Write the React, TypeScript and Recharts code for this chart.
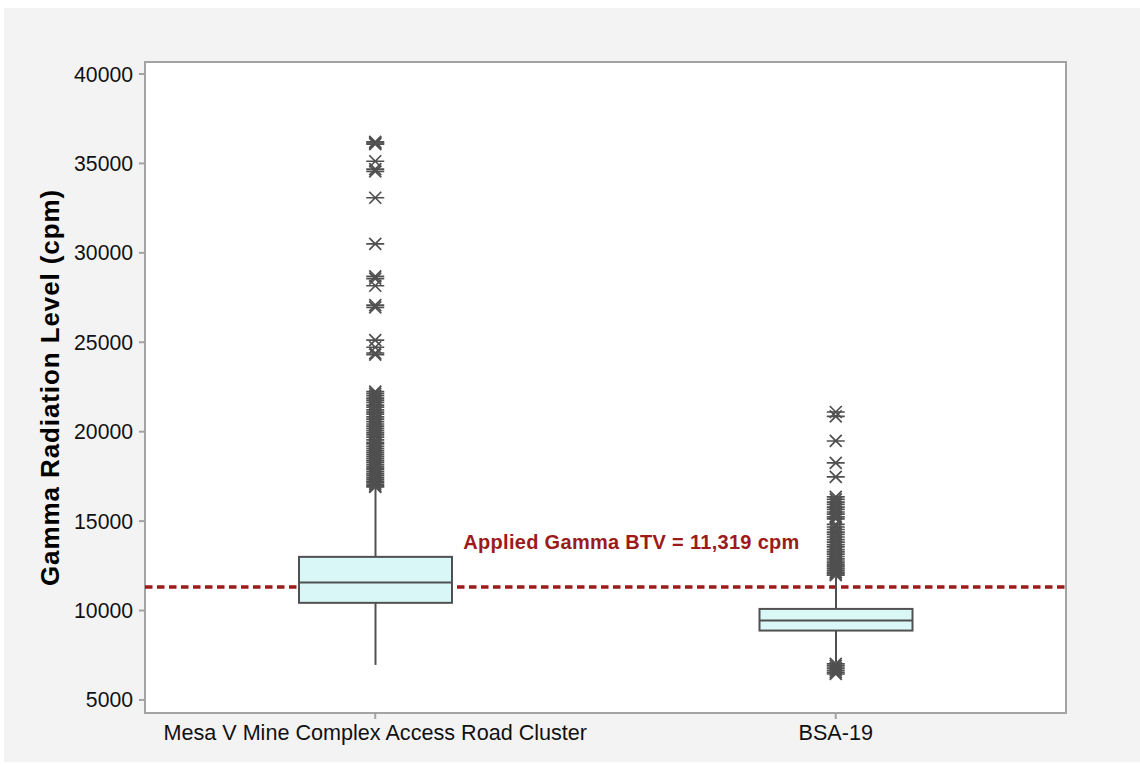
import { ComposedChart, Bar, Scatter, XAxis, YAxis, ReferenceLine, ReferenceArea, Label } from "recharts";

// Box statistics per site (cpm)
const sites = ["Mesa V Mine Complex Access Road Cluster", "BSA-19"];
const q1 = [10430, 8880];
const medians = [11560, 9440];
const q3 = [13000, 10090];
const whiskerLow = [6960, 7100];
const whiskerHigh = [16860, 11900];

// Individual values beyond the whiskers
const mesaOutliers = [
  36200, 36140, 36080, 35120, 34680, 34560, 33080, 30500, 28680, 28560, 28160,
  27080, 26950, 25120, 24720, 24400, 24310,
  22240, 22130, 22010, 21880, 21760, 21640, 21490, 21370, 21220, 21090, 20980,
  20830, 20700, 20560, 20430, 20310, 20180, 20060, 19930, 19820, 19690, 19540,
  19400, 19320, 19180, 19060, 18940, 18830, 18720, 18610, 18490, 18380, 18290,
  18170, 18060, 17960, 17870, 17760, 17650, 17560, 17440, 17350, 17240, 17150,
  17060, 16970, 16910,
];
const bsaOutliers = [
  21100, 20850, 19480, 18250, 17470,
  16360, 16220, 16060, 15930, 15780, 15660, 15510, 15390, 15240, 15120,
  14820, 14670, 14530, 14380, 14260, 14110, 13960, 13820, 13690, 13560, 13410,
  13280, 13150, 13020, 12890, 12770, 12660, 12560, 12480, 12370, 12260, 12150,
  12060, 11980,
  7020, 6900, 6780, 6650, 6540, 6450,
];

const btv = 11319;
const yTicks = [5000, 10000, 15000, 20000, 25000, 30000, 35000, 40000];
const yDomain = [4270, 40670];

const boxRows = sites.map((site, i) => ({
  pos: i,
  site,
  box: [q1[i], q3[i]],
  q1: q1[i],
  median: medians[i],
  q3: q3[i],
  low: whiskerLow[i],
  high: whiskerHigh[i],
}));

const outlierRows = [
  ...mesaOutliers.map((value) => ({ pos: 0, value })),
  ...bsaOutliers.map((value) => ({ pos: 1, value })),
];

const FONT = "Arial, 'Liberation Sans', sans-serif";
const INK = "#505050";
const RED = "#9c1a1a";

function BoxShape(props: any) {
  const { x, y, width, height, payload } = props;
  if (height == null || !payload) return null;
  // pixels per cpm, taken from the rendered box itself
  const perUnit = height / (payload.q3 - payload.q1);
  const cx = x + width / 2;
  const yMed = y + (payload.q3 - payload.median) * perUnit;
  const yHigh = y - (payload.high - payload.q3) * perUnit;
  const yLow = y + height + (payload.q1 - payload.low) * perUnit;
  return (
    <g>
      <line x1={cx} x2={cx} y1={yHigh} y2={y} stroke={INK} strokeWidth={2} />
      <line x1={cx} x2={cx} y1={y + height} y2={yLow} stroke={INK} strokeWidth={2} />
      <rect x={x} y={y} width={width} height={height} fill="#d9f7f7" stroke={INK} strokeWidth={2} />
      <line x1={x} x2={x + width} y1={yMed} y2={yMed} stroke={INK} strokeWidth={2} />
    </g>
  );
}

function Asterisk(props: any) {
  const { cx, cy } = props;
  if (cx == null || cy == null) return null;
  const d = `M${cx - 9},${cy}H${cx + 9}M${cx - 6},${cy - 6}L${cx + 6},${cy + 6}M${cx - 6},${cy + 6}L${cx + 6},${cy - 6}`;
  return <path d={d} stroke={INK} strokeWidth={1.7} fill="none" />;
}

function YTitle(props: any) {
  const { viewBox } = props;
  const x = 46;
  const y = viewBox.y + viewBox.height / 2;
  return (
    <text
      x={x}
      y={y}
      transform={`rotate(-90, ${x}, ${y})`}
      textAnchor="middle"
      dominantBaseline="central"
      fontFamily={FONT}
      fontSize={26}
      fontWeight="bold"
      letterSpacing={0.9}
      fill="#000"
    >
      Gamma Radiation Level (cpm)
    </text>
  );
}

function BtvLabel(props: any) {
  const { viewBox } = props;
  return (
    <text
      x={viewBox.x + viewBox.width / 2 + 26}
      y={viewBox.y - 38}
      textAnchor="middle"
      fontFamily={FONT}
      fontSize={20}
      fontWeight="bold"
      letterSpacing={0.3}
      fill={RED}
    >
      Applied Gamma BTV = 11,319 cpm
    </text>
  );
}

export default function App() {
  return (
    <div style={{ position: "absolute", left: 4, top: 8, width: 1136, height: 754, background: "#f3f3f3" }}>
      <ComposedChart
        width={1136}
        height={754}
        data={boxRows}
        margin={{ top: 54, right: 74, bottom: 0, left: 0 }}
      >
        <ReferenceArea
          x1={-0.5}
          x2={1.5}
          y1={yDomain[0]}
          y2={yDomain[1]}
          fill="#ffffff"
          fillOpacity={1}
          stroke="#a3a3a3"
          strokeWidth={2}
          ifOverflow="visible"
          zIndex={-150}
        />
        <XAxis
          type="number"
          dataKey="pos"
          domain={[-0.5, 1.5]}
          ticks={[0, 1]}
          tickFormatter={(v: number) => sites[v] ?? ""}
          height={49}
          axisLine={false}
          tickSize={6}
          tickMargin={6}
          tickLine={{ stroke: "#a3a3a3", strokeWidth: 2 }}
          tick={{ fontSize: 21.6, fill: "#111", fontFamily: FONT }}
          interval={0}
          allowDataOverflow
        />
        <YAxis
          type="number"
          domain={yDomain}
          ticks={yTicks}
          width={141}
          axisLine={false}
          tickSize={6}
          tickMargin={6}
          tickLine={{ stroke: "#a3a3a3", strokeWidth: 2 }}
          tick={{ fontSize: 21.2, fill: "#111", fontFamily: FONT }}
          interval={0}
          allowDataOverflow
        >
          <Label content={<YTitle />} />
        </YAxis>
        <ReferenceLine
          y={btv}
          stroke={RED}
          strokeWidth={3.4}
          strokeDasharray="7.5 4.5"
          label={<BtvLabel />}
          zIndex={250}
        />
        <Bar dataKey="box" barSize={153} shape={<BoxShape />} isAnimationActive={false} zIndex={300} />
        <Scatter data={outlierRows} dataKey="value" shape={<Asterisk />} isAnimationActive={false} />
      </ComposedChart>
    </div>
  );
}
